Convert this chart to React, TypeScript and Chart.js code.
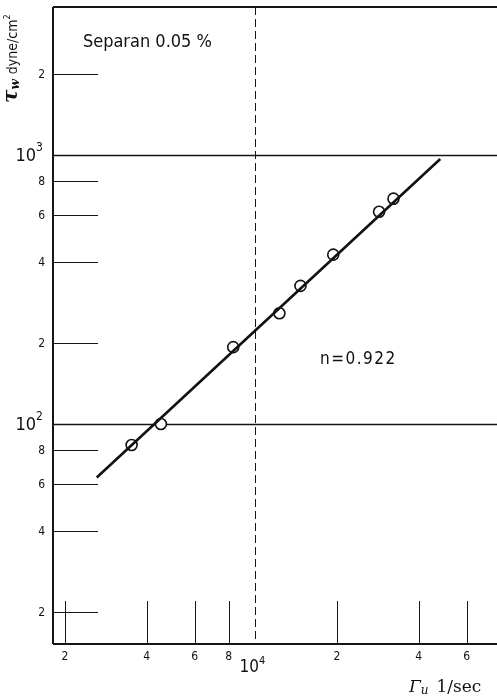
import React, { useEffect, useRef } from 'react';
import { Chart, registerables } from 'chart.js';
Chart.register(...registerables);

// measured data (shear rate 1/sec, wall shear stress dyne/cm2)
const shearRate = [3520, 4510, 8320, 12300, 14700, 19400, 28600, 32300];
const shearStress = [83.5, 100, 193, 258, 326, 426, 615, 688];
// fitted power-law line end points
const fitRate = [2620, 48000];
const fitStress = [63.2, 966];

const xMin = 1809;
const xMax = 77600;
const yMin = 15.2;
const yMax = 3550;

const yMajorValues = [100, 1000];
const yMajorSup = ['2', '3'];
const yMinorValues = [20, 40, 60, 80, 200, 400, 600, 800, 2000];
const yMinorLabels = ['2', '4', '6', '8', '2', '4', '6', '8', '2'];
const xMajorValues = [10000];
const xMajorSup = ['4'];
const xMinorValues = [2000, 4000, 6000, 8000, 20000, 40000, 60000];
const xMinorLabels = ['2', '4', '6', '8', '2', '4', '6'];

const titleText = 'Separan 0.05 %';
const titleAt = [2330, 2630];
const nText = 'n=0.922';
const nAt = [17340, 173];

const SANS = '"DejaVu Sans Condensed", "DejaVu Sans", sans-serif';
const SERIF = '"DejaVu Serif", "Liberation Serif", serif';

const framePlugin = {
  id: 'frame',
  beforeDatasetsDraw(chart: any) {
    const { ctx, chartArea: a, scales } = chart;
    const x = scales.x, y = scales.y;
    const line = (x1: number, y1: number, x2: number, y2: number) => {
      ctx.beginPath();
      ctx.moveTo(x1, y1);
      ctx.lineTo(x2, y2);
      ctx.stroke();
    };
    ctx.save();
    ctx.strokeStyle = '#151515';
    ctx.lineWidth = 1;
    yMinorValues.forEach((v) => {
      const py = Math.round(y.getPixelForValue(v)) + 0.5;
      line(a.left, py, a.left + 45, py);
    });
    xMinorValues.forEach((v) => {
      const px = Math.round(x.getPixelForValue(v)) + 0.5;
      line(px, a.bottom, px, a.bottom - 43);
    });
    ctx.lineWidth = 1.3;
    yMajorValues.forEach((v) => {
      const py = Math.round(y.getPixelForValue(v)) + 0.5;
      line(a.left, py, a.right, py);
    });
    ctx.lineWidth = 1;
    ctx.setLineDash([8, 4]);
    xMajorValues.forEach((v) => {
      const px = Math.round(x.getPixelForValue(v)) + 0.5;
      line(px, a.top, px, a.bottom);
    });
    ctx.setLineDash([]);
    ctx.lineWidth = 2;
    line(a.left, a.top, a.left, a.bottom);
    line(a.left, a.bottom, a.right, a.bottom);
    line(a.left, a.top, a.right, a.top);
    ctx.restore();
  },
  afterDraw(chart: any) {
    const { ctx, chartArea: a, scales } = chart;
    const x = scales.x, y = scales.y;
    ctx.save();
    ctx.fillStyle = '#111';
    // y minor labels
    ctx.font = `12px ${SANS}`;
    ctx.textAlign = 'right';
    ctx.textBaseline = 'middle';
    yMinorValues.forEach((v, i) => {
      ctx.fillText(yMinorLabels[i], a.left - 8, y.getPixelForValue(v) + 1);
    });
    // y major labels
    yMajorValues.forEach((v, i) => {
      const py = y.getPixelForValue(v);
      ctx.font = `18px ${SANS}`;
      ctx.textAlign = 'right';
      ctx.fillText('10', a.left - 17, py + 1);
      ctx.font = `12px ${SANS}`;
      ctx.textAlign = 'left';
      ctx.fillText(yMajorSup[i], a.left - 17, py - 7);
    });
    // x minor labels
    ctx.font = `12px ${SANS}`;
    ctx.textAlign = 'center';
    xMinorValues.forEach((v, i) => {
      ctx.fillText(xMinorLabels[i], x.getPixelForValue(v), a.bottom + 13);
    });
    xMajorValues.forEach((v, i) => {
      const px = x.getPixelForValue(v);
      ctx.font = `17px ${SANS}`;
      ctx.textAlign = 'right';
      ctx.fillText('10', px + 4, a.bottom + 24);
      ctx.font = `11px ${SANS}`;
      ctx.textAlign = 'left';
      ctx.fillText(xMajorSup[i], px + 4, a.bottom + 17);
    });
    // annotations
    ctx.textAlign = 'left';
    ctx.font = `18px ${SANS}`;
    ctx.fillText(titleText, x.getPixelForValue(titleAt[0]), y.getPixelForValue(titleAt[1]));
    ctx.font = `17px ${SANS}`;
    (ctx as any).letterSpacing = '1.5px';
    ctx.fillText(nText, x.getPixelForValue(nAt[0]), y.getPixelForValue(nAt[1]));
    (ctx as any).letterSpacing = '0px';

    // y axis title (rotated)
    ctx.save();
    ctx.translate(17, 103);
    ctx.rotate(-Math.PI / 2);
    ctx.textBaseline = 'alphabetic';
    let cx = 0;
    ctx.font = `bold italic 20px ${SERIF}`;
    ctx.fillText('τ', cx, 0);
    cx += ctx.measureText('τ').width;
    ctx.font = `bold italic 12px ${SERIF}`;
    ctx.fillText('w', cx, 2);
    cx += ctx.measureText('w').width + 5;
    ctx.font = `14px ${SANS}`;
    ctx.fillText('dyne/cm', cx, 0);
    cx += ctx.measureText('dyne/cm').width;
    ctx.font = `9px ${SANS}`;
    ctx.fillText('2', cx, -7);
    ctx.restore();

    // x axis title
    ctx.textBaseline = 'alphabetic';
    let tx = 409;
    ctx.font = `italic 17px ${SERIF}`;
    ctx.fillText('Γ', tx, 692);
    tx += ctx.measureText('Γ').width;
    ctx.font = `italic 12px ${SERIF}`;
    ctx.fillText('u', tx, 694);
    tx += ctx.measureText('u').width + 8;
    ctx.font = `17px ${SERIF}`;
    ctx.fillText('1/sec', tx, 692);
    ctx.restore();
  },
};

export default function App() {
  const ref = useRef<HTMLCanvasElement | null>(null);
  useEffect(() => {
    document.body.style.margin = '0';
    const canvas = ref.current;
    if (!canvas) return;
    const chart = new Chart(canvas, {
      type: 'scatter',
      data: {
        datasets: [
          {
            data: fitRate.map((v, i) => ({ x: v, y: fitStress[i] })),
            showLine: true,
            borderColor: '#111',
            borderWidth: 2.6,
            pointRadius: 0,
            pointHoverRadius: 0,
          },
          {
            data: shearRate.map((v, i) => ({ x: v, y: shearStress[i] })),
            showLine: false,
            pointRadius: 5.5,
            pointBackgroundColor: '#fff',
            pointBorderColor: '#111',
            pointBorderWidth: 1.6,
          },
        ],
      },
      options: {
        animation: false,
        responsive: true,
        maintainAspectRatio: false,
        events: [],
        layout: { autoPadding: false, padding: { left: 53, right: 0, top: 7, bottom: 53 } },
        plugins: { legend: { display: false }, tooltip: { enabled: false } },
        scales: {
          x: { type: 'logarithmic', display: false, min: xMin, max: xMax, bounds: 'data' },
          y: { type: 'logarithmic', display: false, min: yMin, max: yMax, bounds: 'data' },
        },
      } as any,
      plugins: [framePlugin],
    });
    return () => chart.destroy();
  }, []);
  return (
    <div style={{ position: 'fixed', left: 0, top: 0, width: 497, height: 697, background: '#fff' }}>
      <canvas ref={ref} />
    </div>
  );
}
